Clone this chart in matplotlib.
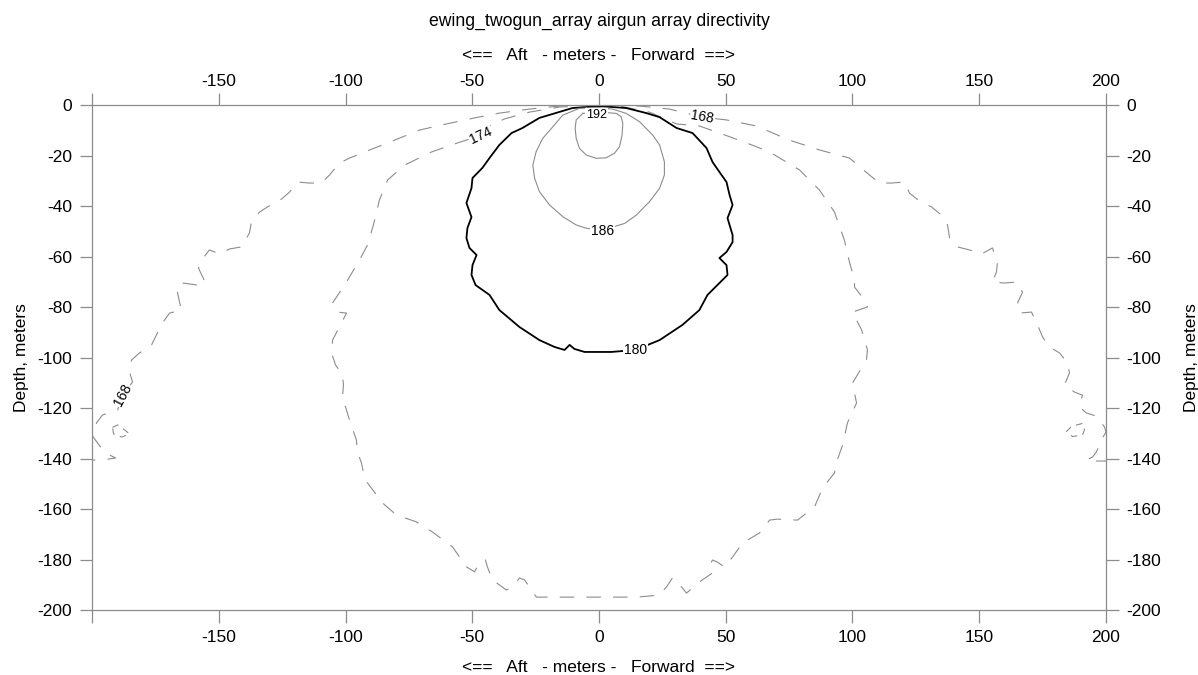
import matplotlib
matplotlib.use("Agg")
import matplotlib.pyplot as plt

plt.rcParams['font.family'] = ['Liberation Sans', 'DejaVu Sans']
plt.rcParams['axes.unicode_minus'] = False

titulo = "ewing_twogun_array airgun array directivity"
rotulo_x = "<==   Aft   - meters -   Forward  ==>"
rotulo_y = "Depth, meters"

# 168 dB, lado de ré (x em m, profundidade em m)
c168a_x = [-3.7, -15.6, -27.4, -39.3, -49.1, -60.2, -70.8, -82.6, -90.5, -98.4, -102.4, -106.3,
           -109.5, -114.2, -118.9, -122.1, -125.2, -130.8, -133.9, -137.1, -137.9, -141.0, -145.8,
           -149.7, -153.7, -156.8, -158.0, -155.2, -158.4, -164.3, -166.7, -165.5, -164.7, -169.4,
           -172.2, -174.6, -176.5, -181.3, -184.4, -185.2, -184.0, -187.9, -189.9, -195.9, -198.2,
           -199.8, -197.0, -193.9, -190.7, -195.9, -200.0]
c168a_z = [0, -0.4, -1.6, -3.2, -5.1, -7.5, -9.9, -14.7, -17.8, -21.0, -23.0, -27.7,
           -30.9, -30.9, -30.5, -34.5, -37.2, -40.4, -42.4, -46.3, -50.7, -56.2, -57.0,
           -59.0, -57.4, -61.4, -64.6, -70.5, -71.3, -70.5, -72.1, -78.0, -81.2, -82.4,
           -86.3, -91.1, -95.0, -98.2, -101.0, -105.7, -109.7, -114.9, -120.8, -122.8, -125.9,
           -131.1, -135.0, -138.2, -139.8, -140.6, -140.6]
# 168 dB, lado de vante
c168v_x = [4.1, 16.0, 27.8, 40.8, 50.3, 62.1, 75.1, 87.0, 98.8, 104.3, 110.6, 115.4, 120.5,
           122.5, 126.4, 131.2, 135.1, 137.5, 138.3, 141.4, 146.2, 150.9, 155.2, 157.2, 156.8,
           155.2, 160.0, 164.7, 167.1, 165.1, 165.9, 170.6, 173.0, 175.0, 177.7, 181.7, 184.8,
           185.6, 183.6, 187.6, 190.7, 189.5, 192.3, 196.2, 199.4, 200.0, 198.6, 197.4, 196.2,
           194.7, 192.3, 196.6, 200.0]
c168v_z = [0, -0.4, -1.6, -4.8, -5.9, -8.3, -13.9, -17.8, -21.0, -25.7, -30.9, -30.9, -30.5,
           -34.9, -38.0, -40.4, -43.6, -47.5, -52.7, -56.2, -57.4, -59.0, -56.6, -62.2, -66.1,
           -70.1, -70.5, -70.1, -74.1, -78.4, -82.4, -82.0, -87.1, -91.9, -95.8, -98.2, -102.2,
           -106.1, -110.9, -113.7, -114.9, -119.6, -122.0, -123.2, -127.5, -129.5, -131.9, -134.7,
           -137.4, -139.4, -140.6, -141.0, -141.0]
# pequenos laços de 168 dB perto das bordas
laco_a_x = [-191.9, -189.9, -187.1, -185.2, -188.3, -191.5, -191.9]
laco_a_z = [-127.7, -126.7, -128.7, -130.3, -131.5, -130.3, -127.7]
laco_v_x = [190.7, 186.4, 184.4, 186.8, 190.7, 191.5, 190.7]
laco_v_z = [-126.1, -127.3, -129.3, -131.3, -130.7, -128.7, -126.1]

# 174 dB
c174_x = [-1.8, -15.6, -27.4, -37.3, -43.2, -46.7, -51.1, -55.8, -66.1, -76.7, -83.4, -86.6,
          -89.0, -91.3, -94.5, -99.6, -105.1, -103.2, -99.6, -102.4, -105.1, -105.5, -103.9,
          -101.2, -100.8, -101.2, -98.4, -95.7, -95.3, -93.7, -92.5, -91.3, -85.4, -79.9, -72.0,
          -65.7, -57.8, -52.3, -49.1, -47.1, -44.8, -44.0, -42.0, -36.5, -33.3, -31.4, -29.4,
          -27.4, -24.7, -16.8, -4.9, 5.3, 14.8, 23.9, 26.6, 29.0, 31.0, 34.5, 39.6, 44.8, 43.6,
          44.8, 46.7, 49.5, 52.7, 56.6, 63.3, 67.3, 70.4, 78.3, 85.0, 88.2, 92.9, 93.7, 96.1,
          98.0, 101.6, 100.0, 105.5, 105.9, 103.6, 100.0, 105.9, 104.7, 100.8, 100.8, 98.8,
          96.8, 92.9, 87.0, 79.1, 67.3, 58.2, 47.5, 39.6, 30.6, 19.9, 8.1, 1.4]
c174_z = [0, -0.8, -2.8, -5.5, -8.3, -11.9, -13.5, -15.0, -18.6, -23.8, -29.7, -37.6,
          -47.5, -55.4, -61.4, -70.1, -78.4, -82.0, -82.4, -87.9, -93.1, -98.2, -103.0,
          -106.9, -110.9, -115.6, -124.8, -132.7, -137.4, -141.8, -147.7, -149.7, -157.6, -162.4,
          -165.1, -169.1, -175.0, -182.9, -184.9, -181.0, -180.2, -183.0, -188.1, -192.1, -190.1,
          -187.3, -188.1, -190.9, -194.9, -194.9, -194.9, -194.9, -194.9, -194.1, -190.9, -187.3,
          -188.9, -193.3, -188.9, -185.3, -182.2, -180.2, -181.0, -183.0, -179.0, -173.5, -169.5,
          -164.4, -164.0, -164.4, -159.2, -151.7, -145.7, -141.4, -134.7, -125.9, -118.0, -110.1,
          -101.0, -97.0, -89.1, -82.0, -80.0, -77.2, -72.1, -69.3, -62.2, -53.5, -42.4, -33.7,
          -25.7, -18.6, -15.0, -11.1, -8.3, -7.5, -2.8, -0.4, 0]

# 180 dB
c180_x = [0.2, -10.5, -23.5, -30.2, -34.5, -39.3, -43.2, -46.0, -49.9, -50.3, -52.3, -50.3,
          -51.9, -52.3, -51.1, -48.3, -49.9, -50.3, -48.7, -43.2, -39.3, -31.4, -23.5, -17.6,
          -13.6, -11.6, -9.7, -5.7, 0.2, 4.9, 14.4, 23.9, 32.9, 39.6, 42.8, 46.7, 50.7, 50.3,
          47.5, 50.3, 52.7, 52.7, 50.7, 52.7, 51.5, 50.3, 47.5, 44.8, 42.4, 36.9, 30.6, 23.9,
          18.7, 10.8, 0.2]
c180_z = [-0.4, -1.2, -5.1, -9.1, -11.1, -15.8, -21.0, -24.9, -28.9, -32.9, -38.8, -44.4,
          -48.7, -52.7, -56.6, -59.4, -63.4, -67.3, -71.3, -75.2, -81.2, -87.9, -93.1, -95.8,
          -97.0, -95.0, -96.6, -97.8, -97.8, -97.8, -97.0, -93.1, -87.1, -81.2, -75.2, -71.3,
          -67.3, -63.4, -60.6, -58.2, -54.3, -51.5, -44.8, -39.6, -35.6, -30.5, -26.5, -22.6,
          -17.0, -11.1, -9.1, -4.8, -3.2, -1.2, -0.4]

# 186 dB
c186_x = [-5.0, -7.7, -14.3, -18.2, -22.2, -24.8, -26.1, -25.4, -23.5, -19.5, -14.3, -9.0,
          -5.0, 1.2, 10.1, 14.7, 19.9, 23.9, 25.8, 25.8, 23.9, 21.2, 16.0, 10.7, 5.4, 0.2, -5.0]
c186_z = [-1.2, -1.3, -4.0, -8.6, -13.2, -18.5, -23.8, -29.0, -34.3, -39.6, -44.2, -47.5,
          -48.8, -49.6, -46.9, -43.6, -38.3, -33.0, -27.7, -22.5, -15.8, -11.9, -6.6, -3.3,
          -1.6, -1.1, -1.2]

# 192 dB
c192_x = [-6.4, -9.0, -9.4, -9.0, -7.7, -5.0, -1.1, 2.8, 6.1, 8.1, 9.1, 9.4, 8.7, 6.8, 0.0, -6.4]
c192_z = [-3.3, -5.9, -9.2, -13.2, -17.2, -19.8, -21.1, -20.9, -19.1, -16.5, -11.9, -7.3,
          -4.6, -3.3, -2.8, -3.3]
c198_x = [-1.0, -0.7, 0.0, 0.7, 1.0, 0.7, 0.0, -0.7, -1.0]
c198_z = [-2.0, -1.3, -1.0, -1.3, -2.0, -2.7, -3.0, -2.7, -2.0]

# rótulos: (nível, x, profundidade, rotação)
rot_niveis = [192, 186, 180, 174, 168, 168]
rot_x = [-1.0, 1.3, 14.4, -46.7, 40.8, -187.9]
rot_z = [-4.0, -49.9, -97.0, -11.9, -4.8, -114.9]
rot_ang = [0, 0, 0, 25, -10, 62]
rot_tam = [9, 10, 10, 10, 10, 10]

cinza = '#8c8c8c'
tracejado = (0, (13, 11))

fig = plt.figure(figsize=(11.98, 6.75), dpi=100)
ax = fig.add_axes([0.0768, 0.0963, 0.8464, 0.7481])

ax.plot(c168a_x, c168a_z, color=cinza, lw=0.8, linestyle=tracejado)
ax.plot(c168v_x, c168v_z, color=cinza, lw=0.8, linestyle=tracejado)
ax.plot(laco_a_x, laco_a_z, color=cinza, lw=0.8, linestyle=(0, (6, 5)))
ax.plot(laco_v_x, laco_v_z, color=cinza, lw=0.8, linestyle=(0, (6, 5)))
ax.plot(c174_x, c174_z, color=cinza, lw=0.8, linestyle=tracejado)
ax.plot(c180_x, c180_z, color='black', lw=1.3)
ax.plot(c186_x, c186_z, color=cinza, lw=0.8)
ax.plot(c192_x, c192_z, color=cinza, lw=0.8)
ax.plot(c198_x, c198_z, color=cinza, lw=0.8)

for nivel, x, z, ang, tam in zip(rot_niveis, rot_x, rot_z, rot_ang, rot_tam):
    ax.text(x, z, str(nivel), fontsize=tam, rotation=ang, ha='center', va='center',
            rotation_mode='anchor', zorder=5,
            bbox=dict(facecolor='white', edgecolor='none', pad=0.6))

ax.set_xlim(-200, 200)
ax.set_ylim(-200, 0)
xt = list(range(-200, 201, 50))
xrot = ['' if v == -200 else str(v) for v in xt]
ax.set_xticks(xt)
ax.set_xticklabels(xrot)
ax.set_yticks(list(range(-200, 1, 20)))

for lado in ['top', 'bottom', 'left', 'right']:
    ax.spines[lado].set_color(cinza)
    ax.spines[lado].set_linewidth(0.9)
ax.tick_params(axis='both', which='both', direction='out', length=9, width=0.9,
               color=cinza, labelsize=12.5, pad=5.5,
               top=False, bottom=True, left=True, right=True,
               labeltop=False, labelbottom=True, labelleft=True, labelright=True)

ax.set_xlabel(rotulo_x, fontsize=12.5, labelpad=11)
ax.set_ylabel(rotulo_y, fontsize=12.5, labelpad=6)

# eixo de cima: marcas, números e rótulo
ax2 = ax.secondary_xaxis('top')
ax2.set_xticks(xt)
ax2.set_xticklabels(xrot)
ax2.spines['top'].set_visible(False)
ax2.tick_params(direction='out', length=9, width=0.9, color=cinza, labelsize=12.5, pad=2.5)
ax2.set_xlabel(rotulo_x, fontsize=12.5, labelpad=10)

ax3 = ax.secondary_yaxis('right')
ax3.set_yticks([])
ax3.spines['right'].set_visible(False)
ax3.set_ylabel(rotulo_y, fontsize=12.5, labelpad=56)

fig.text(0.5, 1 - 21 / 675, titulo, fontsize=12.7, ha='center', va='center')

fig.savefig('out.png', dpi=100)
